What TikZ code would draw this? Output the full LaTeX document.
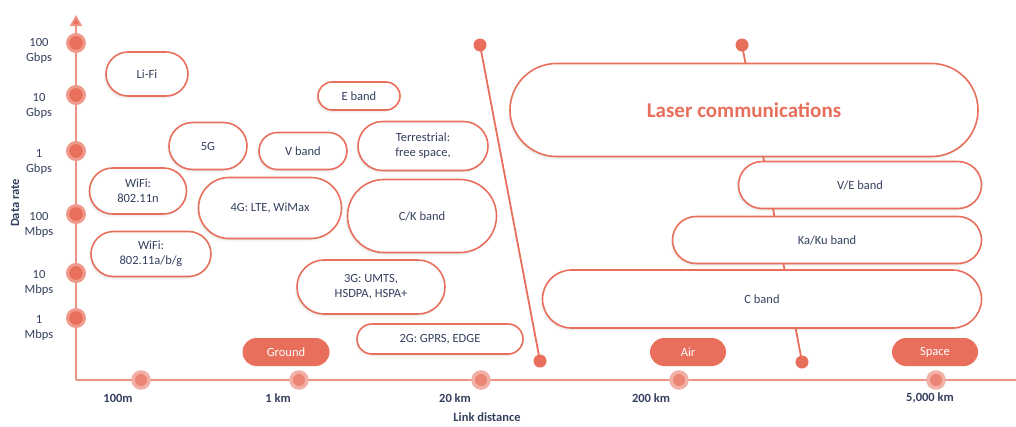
\documentclass[tikz,border=0pt]{standalone}
\usepackage{fontspec}
\setmainfont{Carlito}
\usetikzlibrary{shapes.misc,shadows,arrows.meta}
\definecolor{coral}{HTML}{E96F5D}
\definecolor{ink}{HTML}{34405E}
\definecolor{axisline}{HTML}{EE9484}
\begin{document}
\begin{tikzpicture}[x=1pt,y=-1pt,
  every node/.style={font=\fontsize{12.5}{15}\selectfont, text=ink},
  softshadow/.style={
    drop shadow={shadow xshift=-1pt,shadow yshift=-1.5pt,opacity=0.12},
    drop shadow={shadow xshift=-2pt,shadow yshift=-3pt,opacity=0.07}},
  band/.style 2 args={rounded rectangle, draw=coral, line width=1.6pt, fill=white,
    align=center, inner sep=0pt, minimum width=#1pt, minimum height=#2pt, softshadow},
  tag/.style={rounded rectangle, fill=coral, text=white, inner sep=0pt,
    minimum width=#1pt, minimum height=28pt},
  ydot/.style={circle, fill=coral, draw=coral!70, line width=3pt, minimum size=17pt, inner sep=0pt},
  xdot/.style={circle, fill=coral!85, draw=coral!55, line width=3.5pt, minimum size=16pt, inner sep=0pt},
  enddot/.style={circle, fill=coral, minimum size=13pt, inner sep=0pt},
  ratelabel/.style={align=center},
  distlabel/.style={font=\fontsize{12.5}{15}\selectfont\bfseries},
  axis/.style={draw=axisline, line width=1.8pt}
]
\useasboundingbox (0,0) rectangle (1016,426);

% axes
\coordinate (origin) at (76,380);
\coordinate (ytop) at (76,15);
\coordinate (xend) at (1016,380);
\draw[axis, -{Triangle[width=12pt,length=11pt,fill=coral]}] (origin) -- (ytop);
\draw[axis] (origin) -- (xend);

% data-rate ticks
\node[ydot] (r100g) at (76,43) {};
\node[ydot] (r10g)  at (76,95) {};
\node[ydot] (r1g)   at (76,151) {};
\node[ydot] (r100m) at (76,214) {};
\node[ydot] (r10m)  at (76,273) {};
\node[ydot] (r1m)   at (76,318) {};
\node[ratelabel] (l100g) at (39,51)  {100\\Gbps};
\node[ratelabel] (l10g)  at (39,106) {10\\Gbps};
\node[ratelabel] (l1g)   at (39,162) {1\\Gbps};
\node[ratelabel] (l100m) at (39,225) {100\\Mbps};
\node[ratelabel] (l10m)  at (39,283) {10\\Mbps};
\node[ratelabel] (l1m)   at (39,328) {1\\Mbps};
\node[distlabel, rotate=90] (ylab) at (15,203) {Data rate};

% link-distance ticks
\node[xdot] (d100m) at (141,380) {};
\node[xdot] (d1k)   at (299,380) {};
\node[xdot] (d20k)  at (481,380) {};
\node[xdot] (d200k) at (679,380) {};
\node[xdot] (d5000k) at (936,380) {};
\node[distlabel] (t100m) at (118,398) {100m};
\node[distlabel] (t1k)   at (278,398) {1 km};
\node[distlabel] (t20k)  at (455,398) {20 km};
\node[distlabel] (t200k) at (651,398) {200 km};
\node[distlabel] (t5000k) at (930,398) {5,000 km};
\node[distlabel] (xlab) at (487,417) {Link distance};

% divider lines between ground, air and space
\node[enddot] (g1) at (480,45) {};
\node[enddot] (g2) at (540,361) {};
\node[enddot] (s1) at (742,45) {};
\node[enddot] (s2) at (802,362) {};
\draw[coral, line width=1.8pt] (g1.center) -- (g2.center);
\draw[coral, line width=1.8pt] (s1.center) -- (s2.center);

% domain tags
\node[tag=87] (ground) at (286,352) {Ground};
\node[tag=76] (air)    at (688,352) {Air};
\node[tag=86] (space)  at (935,352) {Space};

% ground technologies
\node[band={82}{44}]  (lifi)   at (147,74)  {Li-Fi};
\node[band={82}{28}]  (eband)  at (359,96)  {E band};
\node[band={78}{47}]  (fiveg)  at (208,146) {5G};
\node[band={88}{37}]  (vband)  at (303,151) {V band};
\node[band={130}{49}] (terr)   at (423,146) {Terrestrial:\\free space,};
\node[band={97}{46}]  (wifin)  at (138,191) {WiFi:\\802.11n};
\node[band={143}{61}] (fourg)  at (270,208) {4G: LTE, WiMax};
\node[band={149}{73}] (ckband) at (422,216) {C/K band};
\node[band={120}{45}] (wifiabg) at (151,254) {WiFi:\\802.11a/b/g};
\node[band={148}{54}] (threeg) at (371,287) {3G: UMTS,\\HSDPA, HSPA+};
\node[band={166}{30}] (twog)   at (440,339) {2G: GPRS, EDGE};

% air and space links
\node[band={468}{93}, font=\fontsize{21}{25}\selectfont\bfseries, text=coral] (laser) at (744,110) {Laser communications};
\node[band={243}{47}] (veband) at (860,185) {V/E band};
\node[band={309}{47}] (kaku)   at (827,240) {Ka/Ku band};
\node[band={439}{58}] (cband)  at (762,299) {C band};
\end{tikzpicture}
\end{document}
